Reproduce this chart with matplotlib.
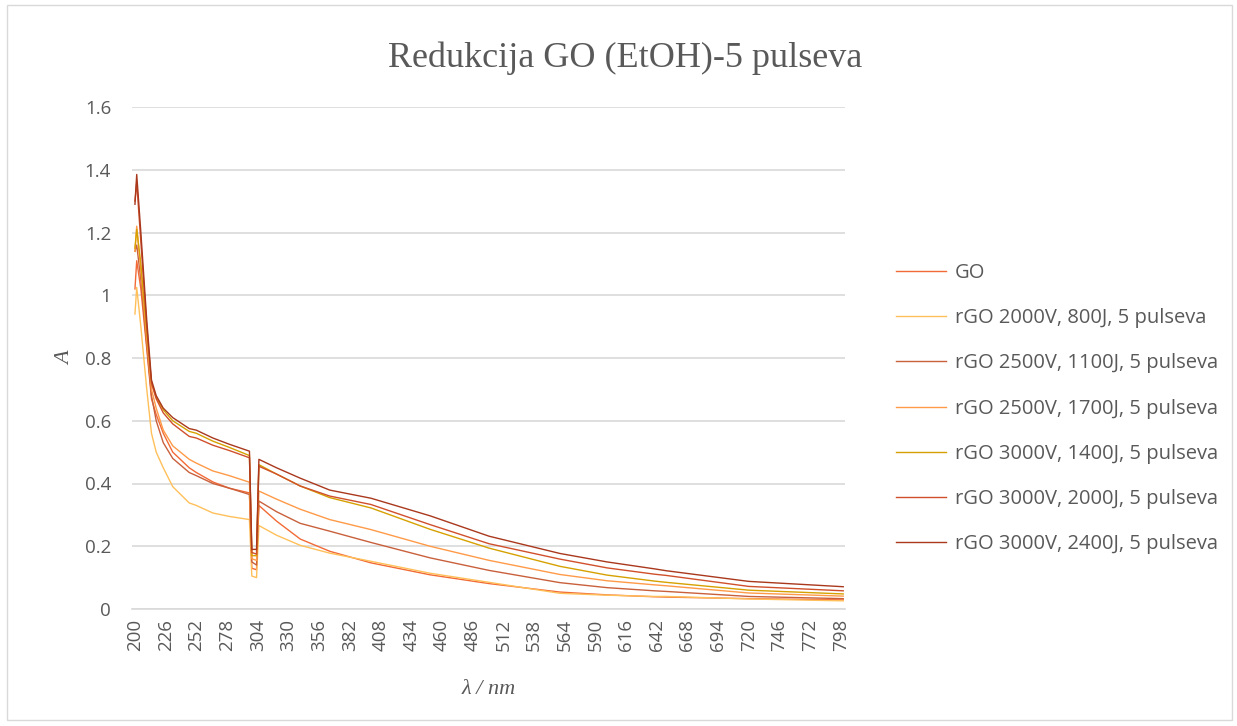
import matplotlib.pyplot as plt
from matplotlib.patches import Rectangle

wl = [200, 201.5, 205, 210, 214, 218, 224, 232, 246, 252, 266, 280, 297,
      299, 303, 305, 320, 340, 365, 400, 450, 500, 560, 600, 640, 650, 720, 800]

go = [1.02, 1.11, 1.02, 0.83, 0.67, 0.62, 0.56, 0.50, 0.45, 0.435, 0.405, 0.385, 0.37,
      0.13, 0.125, 0.33, 0.28, 0.223, 0.184, 0.147, 0.109, 0.081, 0.054, 0.045, 0.039, 0.038, 0.033, 0.029]
rgo_2000_800 = [0.94, 1.025, 0.90, 0.70, 0.56, 0.50, 0.45, 0.39, 0.338, 0.33, 0.306, 0.295, 0.285,
                0.105, 0.10, 0.266, 0.235, 0.203, 0.178, 0.152, 0.114, 0.085, 0.050, 0.044, 0.040, 0.040, 0.032, 0.026]
rgo_2500_1100 = [1.14, 1.16, 1.05, 0.84, 0.68, 0.60, 0.53, 0.48, 0.435, 0.425, 0.40, 0.385, 0.365,
                 0.15, 0.14, 0.344, 0.31, 0.273, 0.248, 0.212, 0.163, 0.123, 0.084, 0.068, 0.058, 0.056, 0.040, 0.033]
rgo_2500_1700 = [1.14, 1.22, 1.08, 0.86, 0.70, 0.64, 0.57, 0.52, 0.477, 0.465, 0.44, 0.425, 0.404,
                 0.16, 0.155, 0.376, 0.35, 0.318, 0.285, 0.253, 0.20, 0.155, 0.110, 0.090, 0.077, 0.074, 0.051, 0.041]
rgo_3000_1400 = [1.15, 1.21, 1.10, 0.88, 0.72, 0.675, 0.635, 0.60, 0.566, 0.56, 0.535, 0.515, 0.489,
                 0.17, 0.17, 0.46, 0.43, 0.392, 0.355, 0.322, 0.254, 0.194, 0.136, 0.108, 0.089, 0.085, 0.060, 0.048]
rgo_3000_2000 = [1.30, 1.36, 1.17, 0.90, 0.72, 0.67, 0.625, 0.59, 0.55, 0.545, 0.522, 0.505, 0.482,
                 0.18, 0.175, 0.455, 0.43, 0.392, 0.36, 0.333, 0.269, 0.208, 0.159, 0.131, 0.111, 0.107, 0.072, 0.058]
rgo_3000_2400 = [1.29, 1.385, 1.20, 0.92, 0.73, 0.68, 0.64, 0.61, 0.575, 0.57, 0.545, 0.525, 0.503,
                 0.19, 0.19, 0.477, 0.45, 0.417, 0.379, 0.353, 0.297, 0.232, 0.177, 0.150, 0.128, 0.122, 0.088, 0.071]

labels = ["GO",
          "rGO 2000V, 800J, 5 pulseva",
          "rGO 2500V, 1100J, 5 pulseva",
          "rGO 2500V, 1700J, 5 pulseva",
          "rGO 3000V, 1400J, 5 pulseva",
          "rGO 3000V, 2000J, 5 pulseva",
          "rGO 3000V, 2400J, 5 pulseva"]
series = [go, rgo_2000_800, rgo_2500_1100, rgo_2500_1700, rgo_3000_1400, rgo_3000_2000, rgo_3000_2400]
colors = ["#F26A36", "#FFC05A", "#C9603C", "#FF9A48", "#D6A100", "#D0502C", "#A9381D"]

xticks = list(range(200, 800, 26))
yticks = [0, 0.2, 0.4, 0.6, 0.8, 1.0, 1.2, 1.4, 1.6]
ytick_labels = ["0", "0.2", "0.4", "0.6", "0.8", "1", "1.2", "1.4", "1.6"]

grey = "#595959"
fig = plt.figure(figsize=(12.37, 7.26), dpi=100)
fig.patches.append(Rectangle((0.006, 0.008), 0.99, 0.985, transform=fig.transFigure,
                             fill=False, edgecolor="#D9D9D9", lw=1))
ax = fig.add_axes([132 / 1237, 1 - 609 / 726, (845 - 132) / 1237, (609 - 107) / 726])

for vals, lab, col in zip(series, labels, colors):
    ax.plot(wl, vals, color=col, lw=1.0, label=lab)

ax.set_xlim(197.5, 801.5)
ax.set_ylim(0, 1.6)
ax.set_xticks(xticks)
ax.set_xticklabels([str(t) for t in xticks], rotation=90, fontsize=13.5, color=grey,
                   family="Open Sans")
ax.set_yticks(yticks)
ax.set_yticklabels(ytick_labels, fontsize=13.5, color=grey, family="Open Sans")
ax.tick_params(axis="y", length=0, pad=15)
ax.tick_params(axis="x", length=0, pad=7)
ax.grid(axis="y", color="#D9D9D9", lw=1.2)
ax.set_axisbelow(True)
for s in ["top", "right", "left"]:
    ax.spines[s].set_visible(False)
ax.spines["bottom"].set_color("#D9D9D9")
ax.spines["bottom"].set_linewidth(1.2)

ax.set_xlabel("λ / nm", fontsize=16, color=grey, family="Liberation Serif", style="italic", labelpad=21)
ax.set_ylabel("A", fontsize=16, color=grey, family="Liberation Serif", style="italic", labelpad=7)
fig.text(0.505, 1 - 58 / 726, "Redukcija GO (EtOH)-5 pulseva", ha="center", va="center",
         fontsize=26, color=grey, family="Liberation Serif")

fig.legend(loc="upper left", bbox_to_anchor=(878 / 1237, 1 - 245 / 726), frameon=False,
           prop={"family": "Open Sans", "size": 14.5}, labelcolor=grey,
           handlelength=2.5, labelspacing=1.25, handletextpad=0.4)

fig.savefig("out.png", dpi=100)
